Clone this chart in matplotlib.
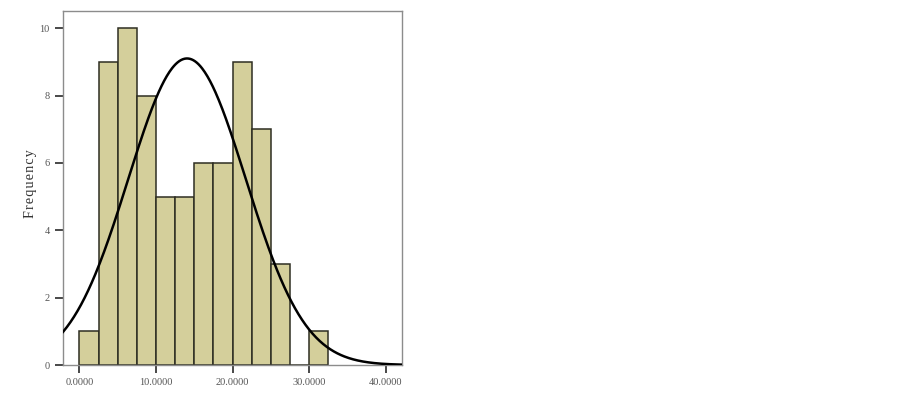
import matplotlib
matplotlib.use("Agg")
import matplotlib.pyplot as plt
import numpy as np

# histogram bins (width 2.5) and counts
bin_edges = [0.0, 2.5, 5.0, 7.5, 10.0, 12.5, 15.0, 17.5, 20.0, 22.5, 25.0, 27.5, 30.0, 32.5]
counts = [1, 9, 10, 8, 5, 5, 6, 6, 9, 7, 3, 0, 1]

# normal curve parameters (SPSS style overlay)
mean = 14.05
std_dev = 7.67
n_total = sum(counts)

x_ticks = [0, 10, 20, 30, 40]
x_tick_labels = ["0.0000", "10.0000", "20.0000", "30.0000", "40.0000"]
y_ticks = [0, 2, 4, 6, 8, 10]

fig = plt.figure(figsize=(9.03, 3.97), dpi=100)
axis = fig.add_axes([0.0698, 0.0806, 0.3754, 0.8924])

lefts = np.array(bin_edges[:-1])
widths = np.diff(bin_edges)
axis.bar(lefts, counts, width=widths, align="edge", color="#d4cf9b",
         edgecolor="#2e2e22", linewidth=1.1, zorder=2)

bw = widths[0]
xs = np.linspace(-3, 43, 400)
ys = n_total * bw / (std_dev * np.sqrt(2 * np.pi)) * np.exp(-0.5 * ((xs - mean) / std_dev) ** 2)
axis.plot(xs, ys, color="black", linewidth=1.8, zorder=3)

axis.set_xlim(-2.13, 42.1)
axis.set_ylim(0, 10.52)
axis.set_xticks(x_ticks)
axis.set_xticklabels(x_tick_labels)
axis.set_yticks(y_ticks)

for side in ["left", "right", "top", "bottom"]:
    axis.spines[side].set_color("#8c8c8c")
    axis.spines[side].set_linewidth(1.0)

axis.tick_params(axis="both", direction="out", length=6, width=1.2,
                 color="#2a2a2a", labelsize=7.5, labelcolor="#555555", pad=3.5)
for lbl in axis.get_xticklabels() + axis.get_yticklabels():
    lbl.set_family("Liberation Serif")

# letters slightly tracked, joined with hair spaces
axis.set_ylabel("\u200a".join("Frequency"), family=["Liberation Serif", "DejaVu Serif"],
                fontsize=10.2, color="#333333")
axis.yaxis.set_label_coords(-0.097, 0.511)
axis.yaxis.label.set_va("center")

fig.savefig("out.png", dpi=100)
